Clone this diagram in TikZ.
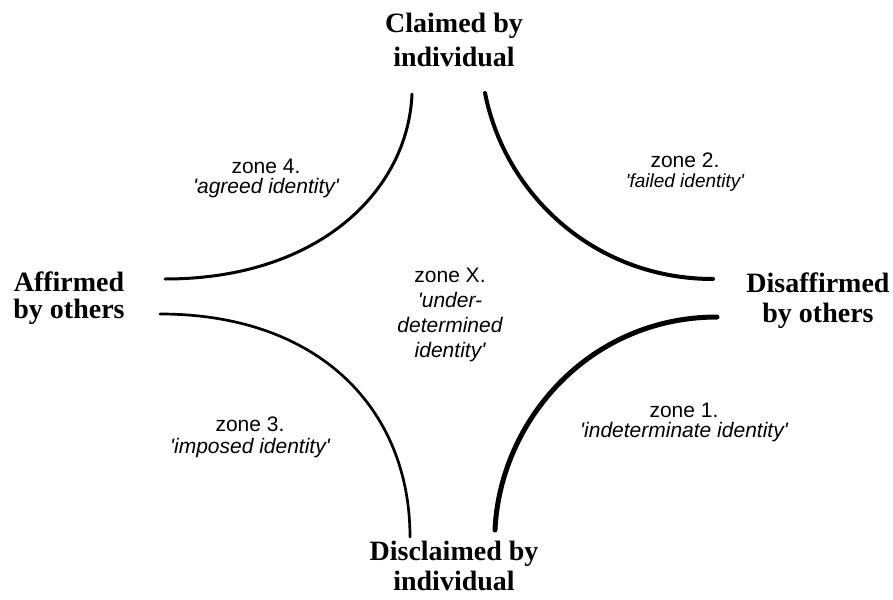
\documentclass[tikz,border=0pt]{standalone}
\usepackage{fontspec}
\setmainfont{Liberation Serif}
\setsansfont{Liberation Sans}
\usetikzlibrary{positioning}
\newcommand{\sq}{\textquotesingle}
\begin{document}
\begin{tikzpicture}[x=1pt,y=-1pt,
				pole/.style={font=\bfseries\fontsize{28}{30}\selectfont,align=center,inner sep=0pt,anchor=base},
				zone/.style={font=\sffamily\fontsize{21}{20}\selectfont,align=center,inner sep=0pt,anchor=base},
				rim/.style={line cap=round,line join=round}]
				\useasboundingbox (0,0) rectangle (893,599);
				\node (claimed)    [pole,font=\bfseries\fontsize{28}{34}\selectfont] at (454,67)  {Claimed by\\individual};
				\node (affirmed)   [pole,font=\bfseries\fontsize{28}{27}\selectfont] at (69,318)  {Affirmed\\by others};
				\node (disaffirm)  [pole] at (818,322) {Disaffirmed\\by others};
				\node (disclaimed) [pole] at (454,590) {Disclaimed by\\individual};
				
				\node (zone4) [zone] at (266,193) {zone 4.\\\itshape\sq agreed identity\sq};
				\node (zone2) [zone] at (685,187) {zone 2.\\\itshape\fontsize{19}{20}\selectfont\sq failed identity\sq};
				\node (zone3) [zone,font=\sffamily\fontsize{21}{22}\selectfont] at (250,453) {zone 3.\\\itshape\sq imposed identity\sq};
				\node (zone1) [zone] at (684,437) {zone 1.\\\itshape\sq indeterminate identity\sq};
				\node (zoneX) [zone,font=\sffamily\fontsize{21}{25}\selectfont] at (450,357) {zone X.\\\itshape\sq under-\\\itshape determined\\\itshape identity\sq};
				
				\draw[rim,line width=3pt]   (165,279) .. controls (320,279) and (408,190) .. (412,94);
				\draw[rim,line width=4pt]   (485,93)  .. controls (505,195) and (595,279) .. (713,279);
				\draw[rim,line width=2.7pt] (160,314) .. controls (320,314) and (410,410) .. (410,537);
				\draw[rim,line width=5pt]   (495,530) .. controls (500,420) and (590,317) .. (717,317);
			\end{tikzpicture}
\end{document}
